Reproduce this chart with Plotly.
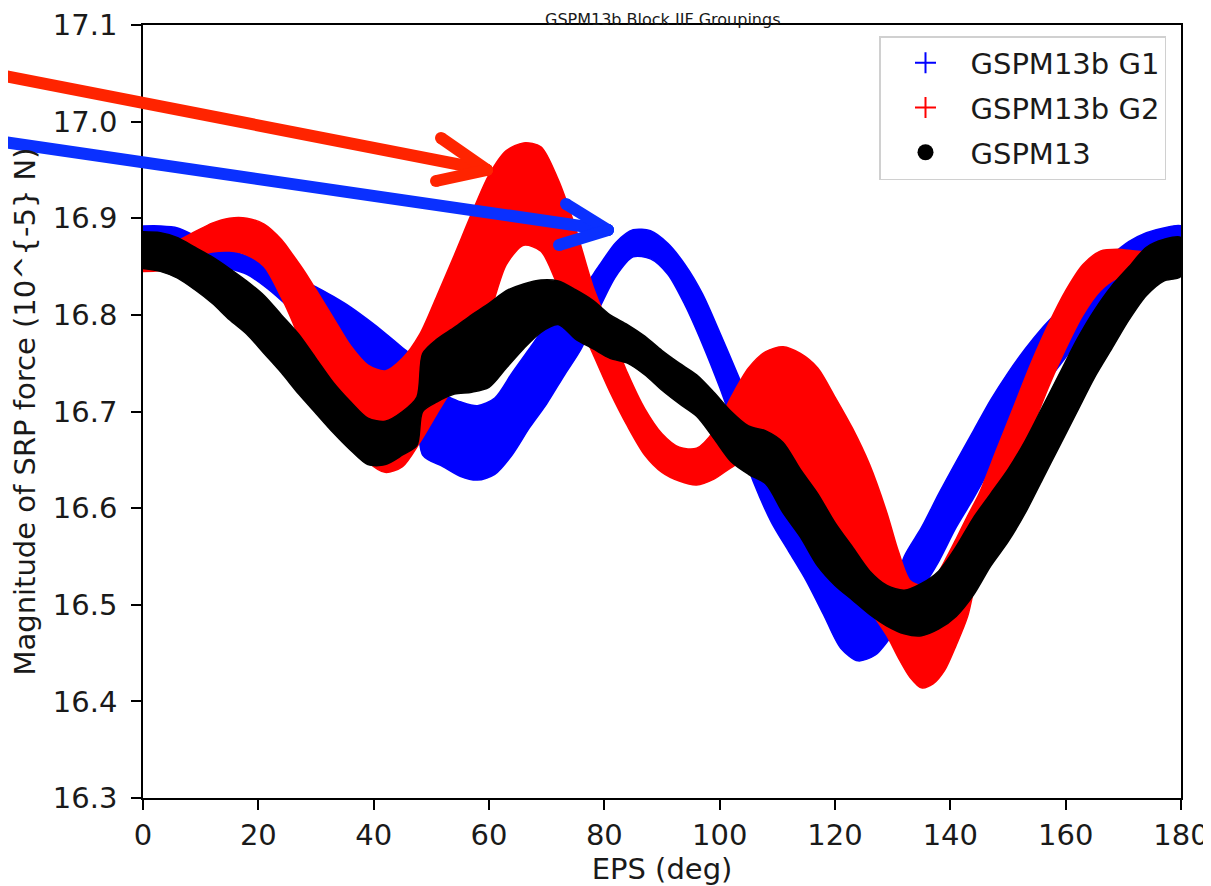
import plotly.graph_objects as go

# ---------------- data ----------------
g1_eps = [0, 3, 6, 9, 12, 15, 18, 21, 24, 27, 30, 33, 36, 39, 42, 45, 47, 48.5, 52, 55, 58, 61, 64, 67,
          70, 73, 76, 79, 82, 85, 88, 91, 94, 97, 100, 103, 106, 109, 112, 115, 118, 121, 124, 127, 129.5,
          132, 135, 138, 141, 144, 147, 150, 153, 156, 159, 162, 165, 168, 171, 174, 177, 180]
g1_low = [16.858, 16.858, 16.857, 16.855, 16.852, 16.848, 16.842, 16.830, 16.815, 16.798, 16.780, 16.762,
          16.745, 16.732, 16.728, 16.725, 16.722, 16.655, 16.643, 16.633, 16.629, 16.635, 16.655, 16.683,
          16.708, 16.737, 16.765, 16.805, 16.840, 16.860, 16.858, 16.842, 16.810, 16.770, 16.725, 16.675,
          16.625, 16.585, 16.555, 16.525, 16.490, 16.455, 16.442, 16.448, 16.465, 16.483, 16.515, 16.545,
          16.580, 16.610, 16.642, 16.672, 16.700, 16.725, 16.748, 16.772, 16.797, 16.822, 16.842, 16.857,
          16.868, 16.874]
g1_high = [16.892, 16.892, 16.890, 16.882, 16.873, 16.867, 16.861, 16.853, 16.843, 16.837, 16.829, 16.819,
           16.808, 16.795, 16.781, 16.766, 16.755, 16.720, 16.717, 16.710, 16.706, 16.714, 16.740, 16.765,
           16.790, 16.810, 16.825, 16.850, 16.875, 16.888, 16.887, 16.874, 16.852, 16.822, 16.782, 16.740,
           16.698, 16.655, 16.615, 16.590, 16.560, 16.530, 16.512, 16.500, 16.505, 16.550, 16.580, 16.615,
           16.648, 16.680, 16.712, 16.740, 16.765, 16.787, 16.806, 16.826, 16.845, 16.862, 16.876, 16.885,
           16.890, 16.892]

g2_eps = [0, 3, 6, 9, 12, 15, 18, 21, 24, 26, 28, 30, 33, 36, 39, 42, 45, 48, 51, 54, 57, 60, 63, 66, 69,
          72, 75, 78, 81, 84, 87, 90, 93, 96, 99, 102, 105, 108, 111, 114, 117, 120, 123, 126, 129, 131,
          133, 135, 137, 139, 141, 143, 145, 148, 151, 154, 157, 160, 163, 166, 169, 172, 175, 178, 180]
g2_low = [16.845, 16.846, 16.851, 16.860, 16.865, 16.866, 16.862, 16.850, 16.818, 16.792, 16.762, 16.735,
          16.705, 16.672, 16.648, 16.637, 16.643, 16.668, 16.698, 16.728, 16.765, 16.800, 16.852, 16.872,
          16.866, 16.830, 16.800, 16.760, 16.720, 16.685, 16.655, 16.637, 16.628, 16.624, 16.630, 16.642,
          16.652, 16.655, 16.648, 16.630, 16.600, 16.560, 16.525, 16.495, 16.468, 16.445, 16.425, 16.414,
          16.418, 16.432, 16.458, 16.488, 16.540, 16.588, 16.635, 16.680, 16.725, 16.765, 16.800, 16.825,
          16.838, 16.842, 16.843, 16.843, 16.843]
g2_high = [16.872, 16.873, 16.877, 16.886, 16.895, 16.900, 16.900, 16.894, 16.878, 16.862, 16.845, 16.826,
           16.797, 16.768, 16.748, 16.742, 16.755, 16.780, 16.820, 16.862, 16.905, 16.945, 16.970, 16.978,
           16.974, 16.940, 16.890, 16.830, 16.785, 16.740, 16.703, 16.677, 16.663, 16.662, 16.680, 16.715,
           16.745, 16.762, 16.767, 16.760, 16.745, 16.715, 16.683, 16.645, 16.595, 16.555, 16.525, 16.520,
           16.525, 16.545, 16.568, 16.592, 16.615, 16.660, 16.705, 16.750, 16.790, 16.825, 16.852, 16.866,
           16.868, 16.866, 16.865, 16.866, 16.866]

g13_eps = [0, 3, 6, 9, 12, 15, 18, 21, 24, 27, 30, 33, 36, 39, 42, 45, 47.5, 48.5, 51, 54, 57, 60, 63, 66,
           69, 72, 75, 78, 81, 84, 87, 90, 93, 96, 99, 102, 105, 108, 111, 114, 117, 120, 123, 126, 129,
           132, 135, 138, 141, 144, 147, 150, 153, 156, 159, 162, 165, 168, 171, 174, 177, 180]
g13_low = [16.848, 16.845, 16.838, 16.826, 16.812, 16.795, 16.780, 16.760, 16.740, 16.718, 16.698, 16.678,
           16.660, 16.645, 16.645, 16.655, 16.665, 16.700, 16.710, 16.718, 16.720, 16.725, 16.745, 16.765,
           16.782, 16.790, 16.775, 16.765, 16.755, 16.750, 16.738, 16.722, 16.708, 16.695, 16.672, 16.648,
           16.635, 16.625, 16.595, 16.570, 16.540, 16.520, 16.505, 16.490, 16.478, 16.470, 16.468, 16.475,
           16.488, 16.510, 16.540, 16.565, 16.595, 16.630, 16.665, 16.700, 16.735, 16.765, 16.795, 16.820,
           16.835, 16.840]
g13_high = [16.886, 16.885, 16.880, 16.870, 16.860, 16.848, 16.835, 16.820, 16.800, 16.780, 16.755, 16.730,
            16.710, 16.693, 16.690, 16.700, 16.715, 16.760, 16.775, 16.787, 16.800, 16.812, 16.825, 16.832,
            16.836, 16.835, 16.826, 16.815, 16.800, 16.790, 16.778, 16.763, 16.750, 16.738, 16.720, 16.700,
            16.685, 16.680, 16.668, 16.640, 16.615, 16.585, 16.560, 16.535, 16.520, 16.515, 16.522, 16.535,
            16.560, 16.590, 16.615, 16.640, 16.670, 16.705, 16.740, 16.775, 16.805, 16.830, 16.850, 16.870,
            16.878, 16.880]

series_names = ["GSPM13b G1", "GSPM13b G2", "GSPM13"]
x_ticks = [0, 20, 40, 60, 80, 100, 120, 140, 160, 180]
y_ticks = [16.3, 16.4, 16.5, 16.6, 16.7, 16.8, 16.9, 17.0, 17.1]
y_tick_text = ["16.3", "16.4", "16.5", "16.6", "16.7", "16.8", "16.9", "17.0", "17.1"]

# ---------------- layout geometry (page pixels) ----------------
OFF = 8                      # default page body margin
PAGE_W, PAGE_H = 1211, 886
W, H = PAGE_W - OFF, PAGE_H - OFF
X0, X1, Y0, Y1 = 143, 1181, 25, 798   # plot area in page pixels
L, R, T, B = X0 - OFF, PAGE_W - X1, Y0 - OFF, PAGE_H - Y1
PW, PH = X1 - X0, Y1 - Y0
FONT = "DejaVu Sans"
TXT = "#1a1a1a"


def px(xp):
    return (xp - X0) / PW


def py(yp):
    return (Y1 - yp) / PH


fig = go.Figure()

bands = [
    (g1_eps, g1_low, g1_high, "#0000ff"),
    (g2_eps, g2_low, g2_high, "#ff0000"),
    (g13_eps, g13_low, g13_high, "#000000"),
]
for eps, low, high, col in bands:
    fig.add_trace(go.Scatter(
        x=list(eps) + list(eps)[::-1],
        y=list(high) + list(low)[::-1],
        mode="lines", fill="toself", fillcolor=col,
        line=dict(color=col, width=1.5, shape="spline", smoothing=0.8),
        hoverinfo="skip", showlegend=False,
    ))

# legend entries
fig.add_trace(go.Scatter(x=[None], y=[None], mode="markers", name=series_names[0], legendgroup="a",
                         marker=dict(symbol="cross-thin", size=15, color="#0000ff",
                                     line=dict(color="#0000ff", width=2))))
fig.add_trace(go.Scatter(x=[None], y=[None], mode="markers", name=series_names[1], legendgroup="b",
                         marker=dict(symbol="cross-thin", size=15, color="#ff0000",
                                     line=dict(color="#ff0000", width=2))))
fig.add_trace(go.Scatter(x=[None], y=[None], mode="markers", name=series_names[2], legendgroup="c",
                         marker=dict(symbol="circle", size=16, color="#000000")))

# hand-drawn arrows (annotation overlay)
shapes = []


def stroke(p0, p1, col, w=12):
    shapes.append(dict(type="line", xref="paper", yref="paper",
                       x0=px(p0[0]), y0=py(p0[1]), x1=px(p1[0]), y1=py(p1[1]),
                       line=dict(color=col, width=w), layer="above"))
    for (a, b) in (p0, p1):
        r = w / 2
        shapes.append(dict(type="circle", xref="paper", yref="paper",
                           x0=px(a - r), x1=px(a + r), y0=py(b + r), y1=py(b - r),
                           fillcolor=col, line=dict(width=0), layer="above"))


RED_A = "#ff2400"
BLUE_A = "#0a30ff"
stroke((-10, 73), (487, 170), RED_A)
stroke((441, 138), (487, 170), RED_A)
stroke((436, 181), (487, 170), RED_A)
stroke((-10, 140), (608, 230), BLUE_A)
stroke((566, 204), (608, 230), BLUE_A)
stroke((559, 245), (608, 230), BLUE_A)

fig.update_layout(
    width=W, height=H,
    margin=dict(l=L, r=R, t=T, b=B, pad=0, autoexpand=False),
    paper_bgcolor="white", plot_bgcolor="white",
    font=dict(family=FONT, size=29, color=TXT),
    shapes=shapes,
    showlegend=True,
    legend=dict(x=px(1166), y=py(36), xanchor="right", yanchor="top",
                bgcolor="rgba(255,255,255,0.85)", bordercolor="#d0d0d0", borderwidth=1.5,
                font=dict(family=FONT, size=29, color=TXT),
                tracegroupgap=4, itemwidth=80),
    annotations=[dict(text="GSPM13b Block IIF Groupings", xref="paper", yref="paper",
                      x=0.5, y=py(OFF + 1), xanchor="center", yanchor="top", showarrow=False,
                      borderpad=0, font=dict(family=FONT, size=16, color=TXT))],
)
fig.update_xaxes(range=[0, 180], tickmode="array", tickvals=x_ticks, automargin=False,
                 ticks="outside", ticklen=10, tickwidth=1.5, tickcolor="black",
                 showline=True, linecolor="black", linewidth=1.6, mirror=True,
                 showgrid=False, zeroline=False, ticklabelstandoff=0,
                 tickfont=dict(family=FONT, size=29, color=TXT),
                 title=dict(text="EPS (deg)", standoff=6, font=dict(family=FONT, size=29, color=TXT)))
fig.update_yaxes(range=[16.3, 17.1], tickmode="array", tickvals=y_ticks, ticktext=y_tick_text,
                 automargin=False,
                 ticks="outside", ticklen=10, tickwidth=1.5, tickcolor="black",
                 showline=True, linecolor="black", linewidth=1.6, mirror=True,
                 showgrid=False, zeroline=False, ticklabelstandoff=8,
                 tickfont=dict(family=FONT, size=29, color=TXT),
                 title=dict(text="Magnitude of SRP force (10^{-5} N)", standoff=10,
                            font=dict(family=FONT, size=29, color=TXT)))

fig.write_html("out.html")
